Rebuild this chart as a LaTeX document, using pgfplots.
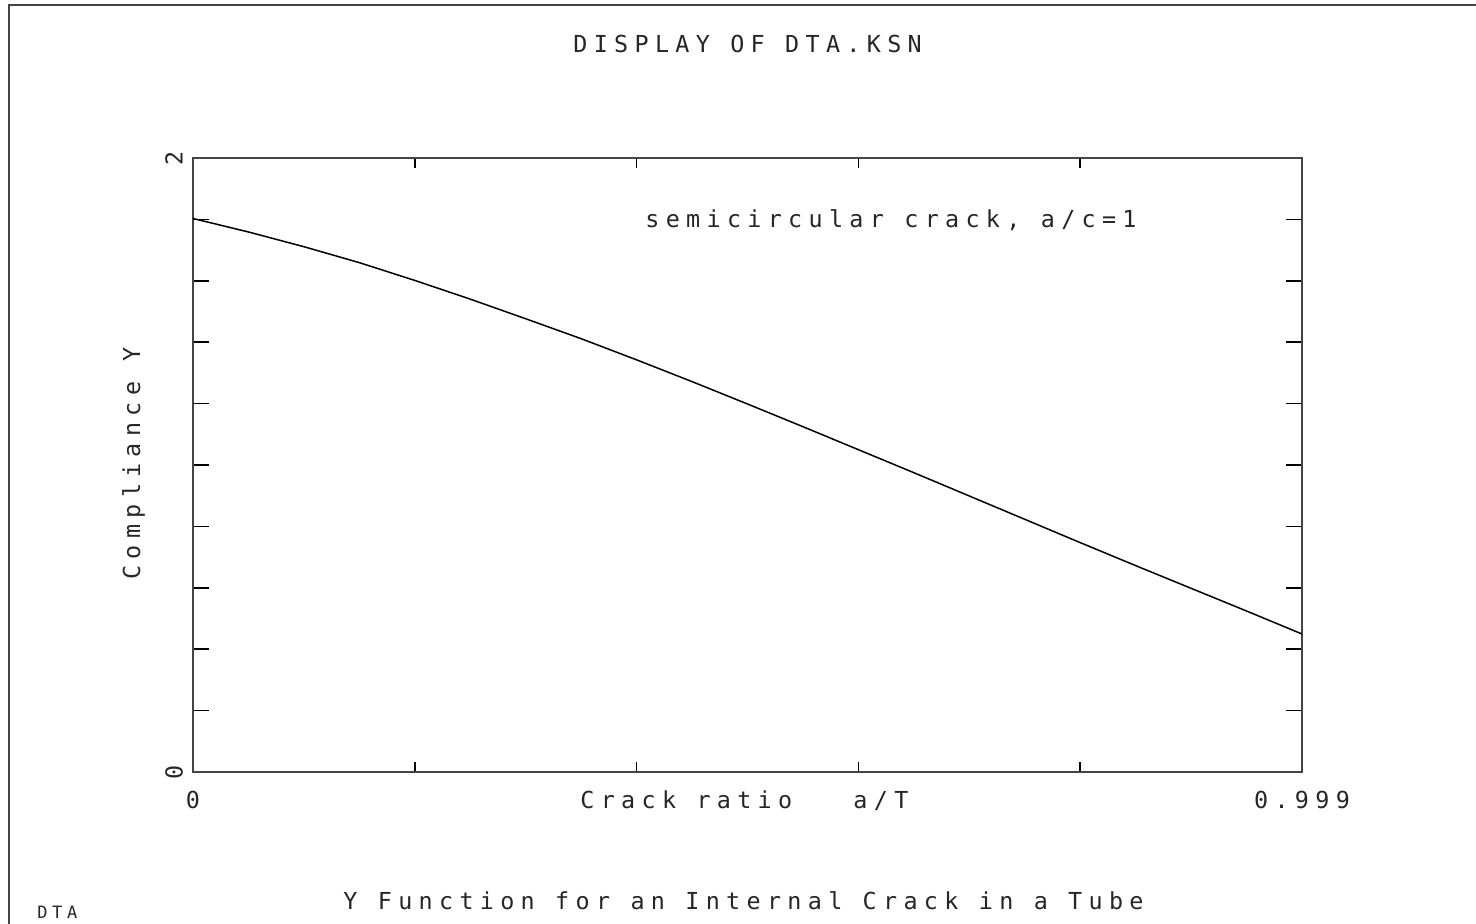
\documentclass[border=0pt]{standalone}
\usepackage{fontspec}
\usepackage{pgfplots}
\pgfplotsset{compat=1.18}
\newfontfamily\plotfont{DejaVu Sans Mono}[LetterSpace=27]
\definecolor{axgray}{HTML}{444444}
\begin{document}
\begin{tikzpicture}[x=1pt,y=1pt]
\useasboundingbox (0,0) rectangle (738,461.5);
\draw[axgray, line width=1pt] (4.5,-5) -- (4.5,459) -- (745,459);
\begin{axis}[
  at={(96.5pt,75.5pt)}, anchor=south west,
  scale only axis, width=554.5pt, height=307pt,
  xmin=0, xmax=0.999, ymin=0, ymax=2,
  axis line style={axgray, line width=1pt},
  tick align=inside,
  xtick={0,0.1998,0.3996,0.5994,0.7992,0.999},
  xticklabels={0,,,,,0.999},
  ytick={0,0.2,0.4,0.6,0.8,1.0,1.2,1.4,1.6,1.8,2.0},
  yticklabels={0,,,,,,,,,,2},
  xtick style={black, line width=0.8pt, /pgfplots/major tick length=5pt},
  ytick style={black, line width=0.8pt, /pgfplots/major tick length=8pt},
  ticklabel style={font=\plotfont\fontsize{11.7}{14}\selectfont, text=black!85},
  xticklabel style={anchor=base, yshift=-18pt},
  yticklabel style={xshift=-9.5pt, anchor=center, rotate=90},
  clip=false,
]
\addplot[black, line width=0.75pt] coordinates {
(0,1.803) (0.05,1.759) (0.1,1.711) (0.15,1.659) (0.2,1.601) (0.25,1.540)
(0.3,1.476) (0.35,1.411) (0.4,1.342) (0.45,1.271) (0.5,1.198) (0.55,1.124)
(0.6,1.049) (0.65,0.974) (0.7,0.898) (0.75,0.822) (0.8,0.746) (0.85,0.671)
(0.9,0.597) (0.95,0.523) (0.999,0.4495)
};
\end{axis}
\begin{scope}[every node/.style={inner sep=0pt, text=black!85, font=\plotfont\fontsize{11.7}{14}\selectfont}]
\node[anchor=base west] at (286.5,435) {DISPLAY OF DTA.KSN};
\node[anchor=base west] at (322.5,348) {semicircular crack, a/c=1};
\node[anchor=base west] at (290,57.5) {Crack ratio\ \ \ a/T};
\node[anchor=base west, rotate=90] at (70,171.5) {Compliance Y};
\node[anchor=base west] at (171.5,7) {Y Function for an Internal Crack in a Tube};
\node[anchor=base west, font=\plotfont\fontsize{8.5}{10}\selectfont] at (18.5,2.5) {DTA};
\end{scope}
\end{tikzpicture}
\end{document}
